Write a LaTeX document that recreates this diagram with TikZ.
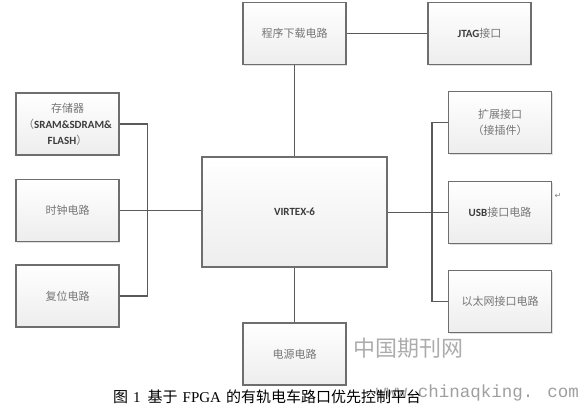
\documentclass[tikz,border=0pt]{standalone}
\usepackage{fontspec}
\setmainfont{Liberation Serif}
\newfontfamily\cjk{Noto Sans CJK SC}
\newfontfamily\latsf{Carlito}
\newfontfamily\wmono{Liberation Mono}
\newfontfamily\symf{DejaVu Sans}
\usetikzlibrary{shadows}
\definecolor{boxline}{HTML}{6E6E6E}
\definecolor{wire}{HTML}{5A5A5A}
\definecolor{boxtext}{HTML}{767676}
\definecolor{entext}{HTML}{3C3C3C}
\newcommand{\zh}[1]{{\cjk #1}}
\newcommand{\en}[1]{{\latsf\bfseries\color{entext}#1}}
\begin{document}
\begin{tikzpicture}[x=1pt, y=-1pt,
  every node/.style={font=\fontsize{11}{16}\selectfont},
  blk/.style={draw=boxline, line width=1.1pt, top color=white, bottom color=gray!14,
    minimum width=103pt, minimum height=62pt, inner sep=0pt, align=center, text=boxtext,
    drop shadow={shadow xshift=1.3pt, shadow yshift=-1.3pt, fill=gray!40, opacity=0.6}},
  wireline/.style={draw=wire, line width=1.4pt}]
  \useasboundingbox (0,0) rectangle (579,407);
  % blocks
  \node[blk] (prog)  at (294.5,33.5) {\zh{程序下载电路}};
  \node[blk] (jtag)  at (479.5,33.5) {\en{JTAG}\zh{接口}};
  \node[blk] (mem)   at (67.5,124)   {\zh{存储器}\\\zh{（}\en{SRAM\&SDRAM\&}\\\en{FLASH}\zh{）}};
  \node[blk] (clock) at (67.5,210.5) {\zh{时钟电路}};
  \node[blk] (reset) at (67.5,296)   {\zh{复位电路}};
  \node[blk, minimum width=185pt, minimum height=110pt] (fpga) at (294.5,212) {\en{VIRTEX-6}};
  \node[blk] (exp)   at (500,122.5)  {\zh{扩展接口}\\\zh{（接插件）}};
  \node[blk] (usb)   at (500,212.5)  {\en{USB}\zh{接口电路}};
  \node[blk] (eth)   at (500,301.5)  {\zh{以太网接口电路}};
  \node[blk] (power) at (294.5,354)  {\zh{电源电路}};
  % connectors
  \draw[wireline] (prog) -- (jtag);
  \draw[wireline] (prog) -- (fpga);
  \draw[wireline] (fpga) -- (power);
  \draw[wireline] (mem.east) -- ++(28,0) coordinate (lbus) |- (reset.east);
  \draw[wireline] (clock.east) -- (fpga.west |- clock.east);
  \draw[wireline] (exp.west) -- ++(-16,0) coordinate (rbus) |- (eth.west);
  \draw[wireline] (fpga.east |- usb.west) -- (usb.west);
  % marks and texts
  \node[text=gray, font=\symf\fontsize{8}{8}\selectfont, inner sep=0pt] (pmark) at (558,196) {↵};
  \node[anchor=west, text=gray!65, font=\cjk\fontsize{22}{24}\selectfont, inner sep=0pt] (wmzh) at (353,348) {中国期刊网};
  \node[anchor=east, text=gray!75, font=\wmono\fontsize{17.5}{20}\selectfont, inner sep=0pt] (wmurl) at (579,393) {www.chinaqking. com};
  \node[anchor=west, text=black, font=\fontsize{15}{18}\selectfont, inner sep=0pt] (cap) at (113,397)
    {\zh{图}\hspace{5pt}1\hspace{7pt}\zh{基于}\hspace{5pt}FPGA\hspace{5pt}\zh{的有轨电车路口优先控制平台}};
\end{tikzpicture}
\end{document}
